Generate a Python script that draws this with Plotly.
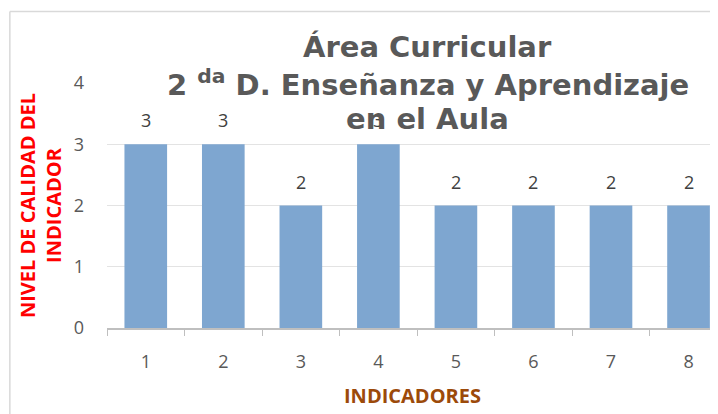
import plotly.graph_objects as go

# data
indicadores = ['1', '2', '3', '4', '5', '6', '7', '8']
nivel = [3, 3, 2, 3, 2, 2, 2, 2]
y_ticks = [0, 1, 2, 3, 4]

title_lines = ['Área Curricular',
               '2 <sup>da</sup> D. Enseñanza y Aprendizaje',
               'en el Aula']
title_y = [1.147, 1.0, 0.853]

fig = go.Figure()

fig.add_trace(go.Bar(
    x=indicadores,
    y=nivel,
    marker=dict(color='#7EA6D0', line=dict(width=0)),
    width=0.55,
))

# value labels above the bars (x given as category index)
for i, val in enumerate(nivel):
    fig.add_annotation(x=i, y=val, text=str(val), showarrow=False,
                       yanchor='middle', yshift=24,
                       font=dict(family='Open Sans', size=18, color='#404040'))

# title, one line at a time (the original has loose line spacing)
for line, ty in zip(title_lines, title_y):
    fig.add_annotation(xref='paper', yref='paper', x=0.525, y=ty,
                       text='<b>' + line + '</b>', showarrow=False,
                       xanchor='center', yanchor='middle',
                       font=dict(family='DejaVu Sans', size=29, color='#595959'))

# the page body has an 8px margin, so the figure is a bit smaller than the window
fig.update_layout(
    width=710, height=406,
    margin=dict(l=99, r=0, t=75, b=86),
    paper_bgcolor='white',
    plot_bgcolor='white',
    showlegend=False,
    xaxis=dict(
        type='category',
        range=[-0.5, 7.38],
        automargin=False,
        showline=True, linecolor='#BFBFBF', linewidth=1.5,
        ticks='outside', tickson='boundaries', ticklen=6, tickcolor='#BFBFBF',
        ticklabelstandoff=17,
        tickfont=dict(family='Open Sans', size=18, color='#595959'),
        title=dict(text='<b>INDICADORES</b>', standoff=17,
                   font=dict(family='Open Sans', size=20, color='#9C4A0A')),
    ),
    yaxis=dict(
        range=[0, 4],
        tickvals=y_ticks,
        automargin=False,
        showgrid=True, gridcolor='#E3E3E3', gridwidth=1,
        zeroline=False, showline=False,
        ticklabelstandoff=22,
        tickfont=dict(family='Open Sans', size=18, color='#595959'),
        title=dict(text='<b>NIVEL DE CALIDAD DEL<br>INDICADOR</b>', standoff=6,
                   font=dict(family='Open Sans', size=20, color='#FF0000')),
    ),
)

# chart frame
fig.add_shape(type='line', xref='paper', yref='paper',
              x0=-0.159, x1=1.0, y0=1.292, y1=1.292,
              line=dict(color='#D9D9D9', width=1.5))
fig.add_shape(type='line', xref='paper', yref='paper',
              x0=-0.159, x1=-0.159, y0=-0.36, y1=1.292,
              line=dict(color='#D9D9D9', width=1.5))

fig.write_html('out.html')
